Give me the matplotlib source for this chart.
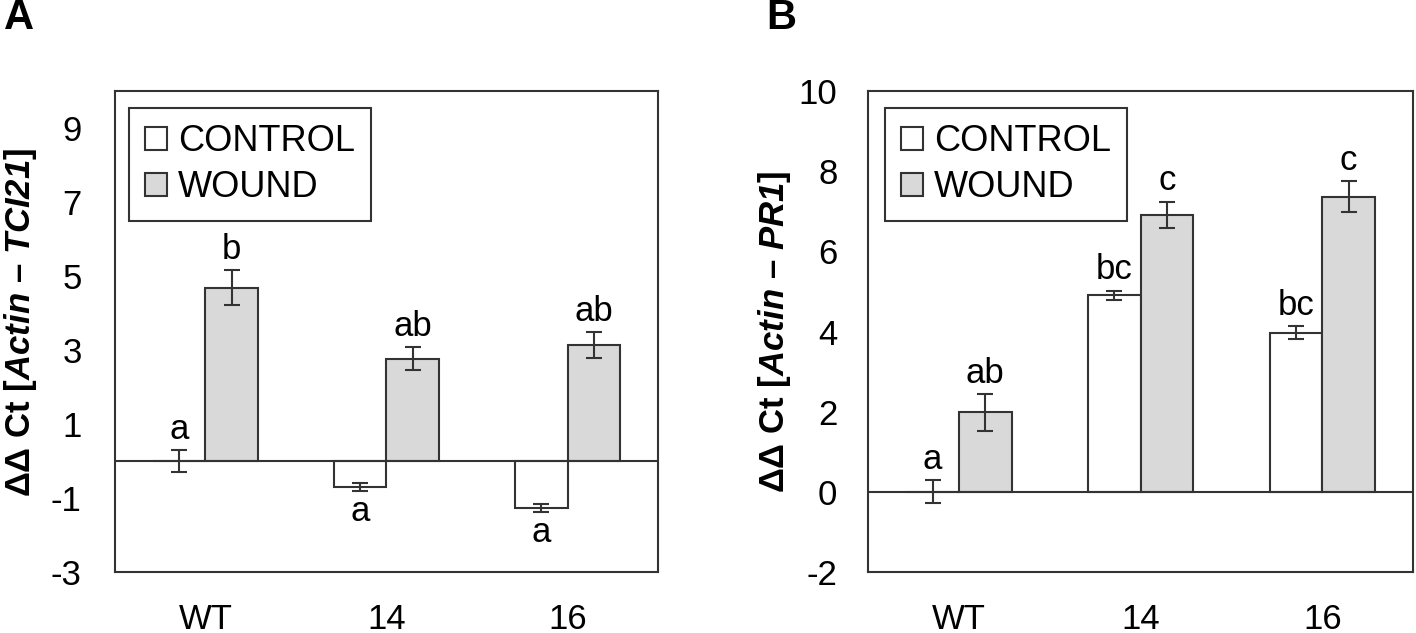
import matplotlib.pyplot as plt
import numpy as np

plt.rcParams['font.family'] = 'Liberation Sans'
plt.rcParams['axes.unicode_minus'] = False
plt.rcParams['mathtext.fontset'] = 'custom'
plt.rcParams['mathtext.it'] = 'Liberation Sans:italic:bold'
plt.rcParams['mathtext.rm'] = 'Liberation Sans:italic:bold'

# Data
genotypes = ['WT', '14', '16']

a_control = [0.0, -0.70, -1.27]
a_control_err = [0.30, 0.10, 0.10]
a_wound = [4.68, 2.76, 3.13]
a_wound_err = [0.47, 0.31, 0.35]
a_control_letters = ['a', 'a', 'a']
a_wound_letters = ['b', 'ab', 'ab']

b_control = [0.0, 4.90, 3.97]
b_control_err = [0.29, 0.12, 0.16]
b_wound = [1.98, 6.91, 7.36]
b_wound_err = [0.46, 0.33, 0.39]
b_control_letters = ['a', 'bc', 'bc']
b_wound_letters = ['ab', 'c', 'c']

edge = '#333333'
gray = '#d9d9d9'
bar_width = 0.29

fig = plt.figure(figsize=(14.16, 6.33), dpi=100)
axA = fig.add_axes([0.0812, 0.0964, 0.3835, 0.7598])
axB = fig.add_axes([0.6130, 0.0964, 0.3849, 0.7598])


def draw(ax, control, control_err, wound, wound_err, cl, wl, ylim, yticks, gene, leg_x, ypad, lab_xy):
    x = np.arange(len(genotypes))
    xc = x - bar_width / 2
    xw = x + bar_width / 2
    ax.bar(xc, control, width=bar_width, color='white', edgecolor=edge, linewidth=1.5, label='CONTROL')
    ax.bar(xw, wound, width=bar_width, color=gray, edgecolor=edge, linewidth=1.5, label='WOUND')
    ax.errorbar(xc, control, yerr=control_err, fmt='none', ecolor=edge, elinewidth=1.5, capsize=6, capthick=1.5)
    ax.errorbar(xw, wound, yerr=wound_err, fmt='none', ecolor=edge, elinewidth=1.5, capsize=6, capthick=1.5)
    ax.axhline(0, color=edge, linewidth=1.5, zorder=3)

    # significance letters above (or below for negative bars) the error bars
    for xs, vals, errs, letters in [(xc, control, control_err, cl), (xw, wound, wound_err, wl)]:
        for xi, v, e, t in zip(xs, vals, errs, letters):
            if v >= 0:
                ax.annotate(t, (xi, v + e), xytext=(0, 3), textcoords='offset points',
                            ha='center', va='bottom', fontsize=25)
            else:
                ax.annotate(t, (xi, v - e), xytext=(0, -3), textcoords='offset points',
                            ha='center', va='top', fontsize=25)

    ax.set_xlim(-0.5, len(genotypes) - 0.5)
    ax.set_ylim(*ylim)
    ax.set_yticks(yticks)
    ax.set_xticks(x)
    ax.set_xticklabels(genotypes)
    ax.tick_params(axis='both', length=0, labelsize=25)
    ax.tick_params(axis='x', pad=22)
    ax.tick_params(axis='y', pad=ypad)
    for s in ax.spines.values():
        s.set_color(edge)
        s.set_linewidth(1.5)
    ax.set_ylabel('ΔΔ Ct [$Actin$ – $' + gene + '$]', fontsize=25, fontweight='bold')
    ax.yaxis.set_label_coords(*lab_xy)
    leg = ax.legend(loc='upper left', bbox_to_anchor=(leg_x, 0.965), borderaxespad=0,
                    fontsize=26, fancybox=False, edgecolor=edge, framealpha=1,
                    handlelength=0.6, handleheight=0.6, handletextpad=0.3,
                    borderpad=0.45, labelspacing=0.3)
    leg.get_frame().set_linewidth(1.5)


draw(axA, a_control, a_control_err, a_wound, a_wound_err, a_control_letters, a_wound_letters,
     (-3, 10), [-3, -1, 1, 3, 5, 7, 9], 'TCI21', 0.026, 24, (-0.140, 0.52))
draw(axB, b_control, b_control_err, b_wound, b_wound_err, b_control_letters, b_wound_letters,
     (-2, 10), [-2, 0, 2, 4, 6, 8, 10], 'PR1', 0.031, 22, (-0.138, 0.5))

fig.text(0.003, 0.972, 'A', fontsize=30, fontweight='bold', va='center')
fig.text(0.541, 0.972, 'B', fontsize=30, fontweight='bold', va='center')

fig.savefig('out.png', dpi=100)
